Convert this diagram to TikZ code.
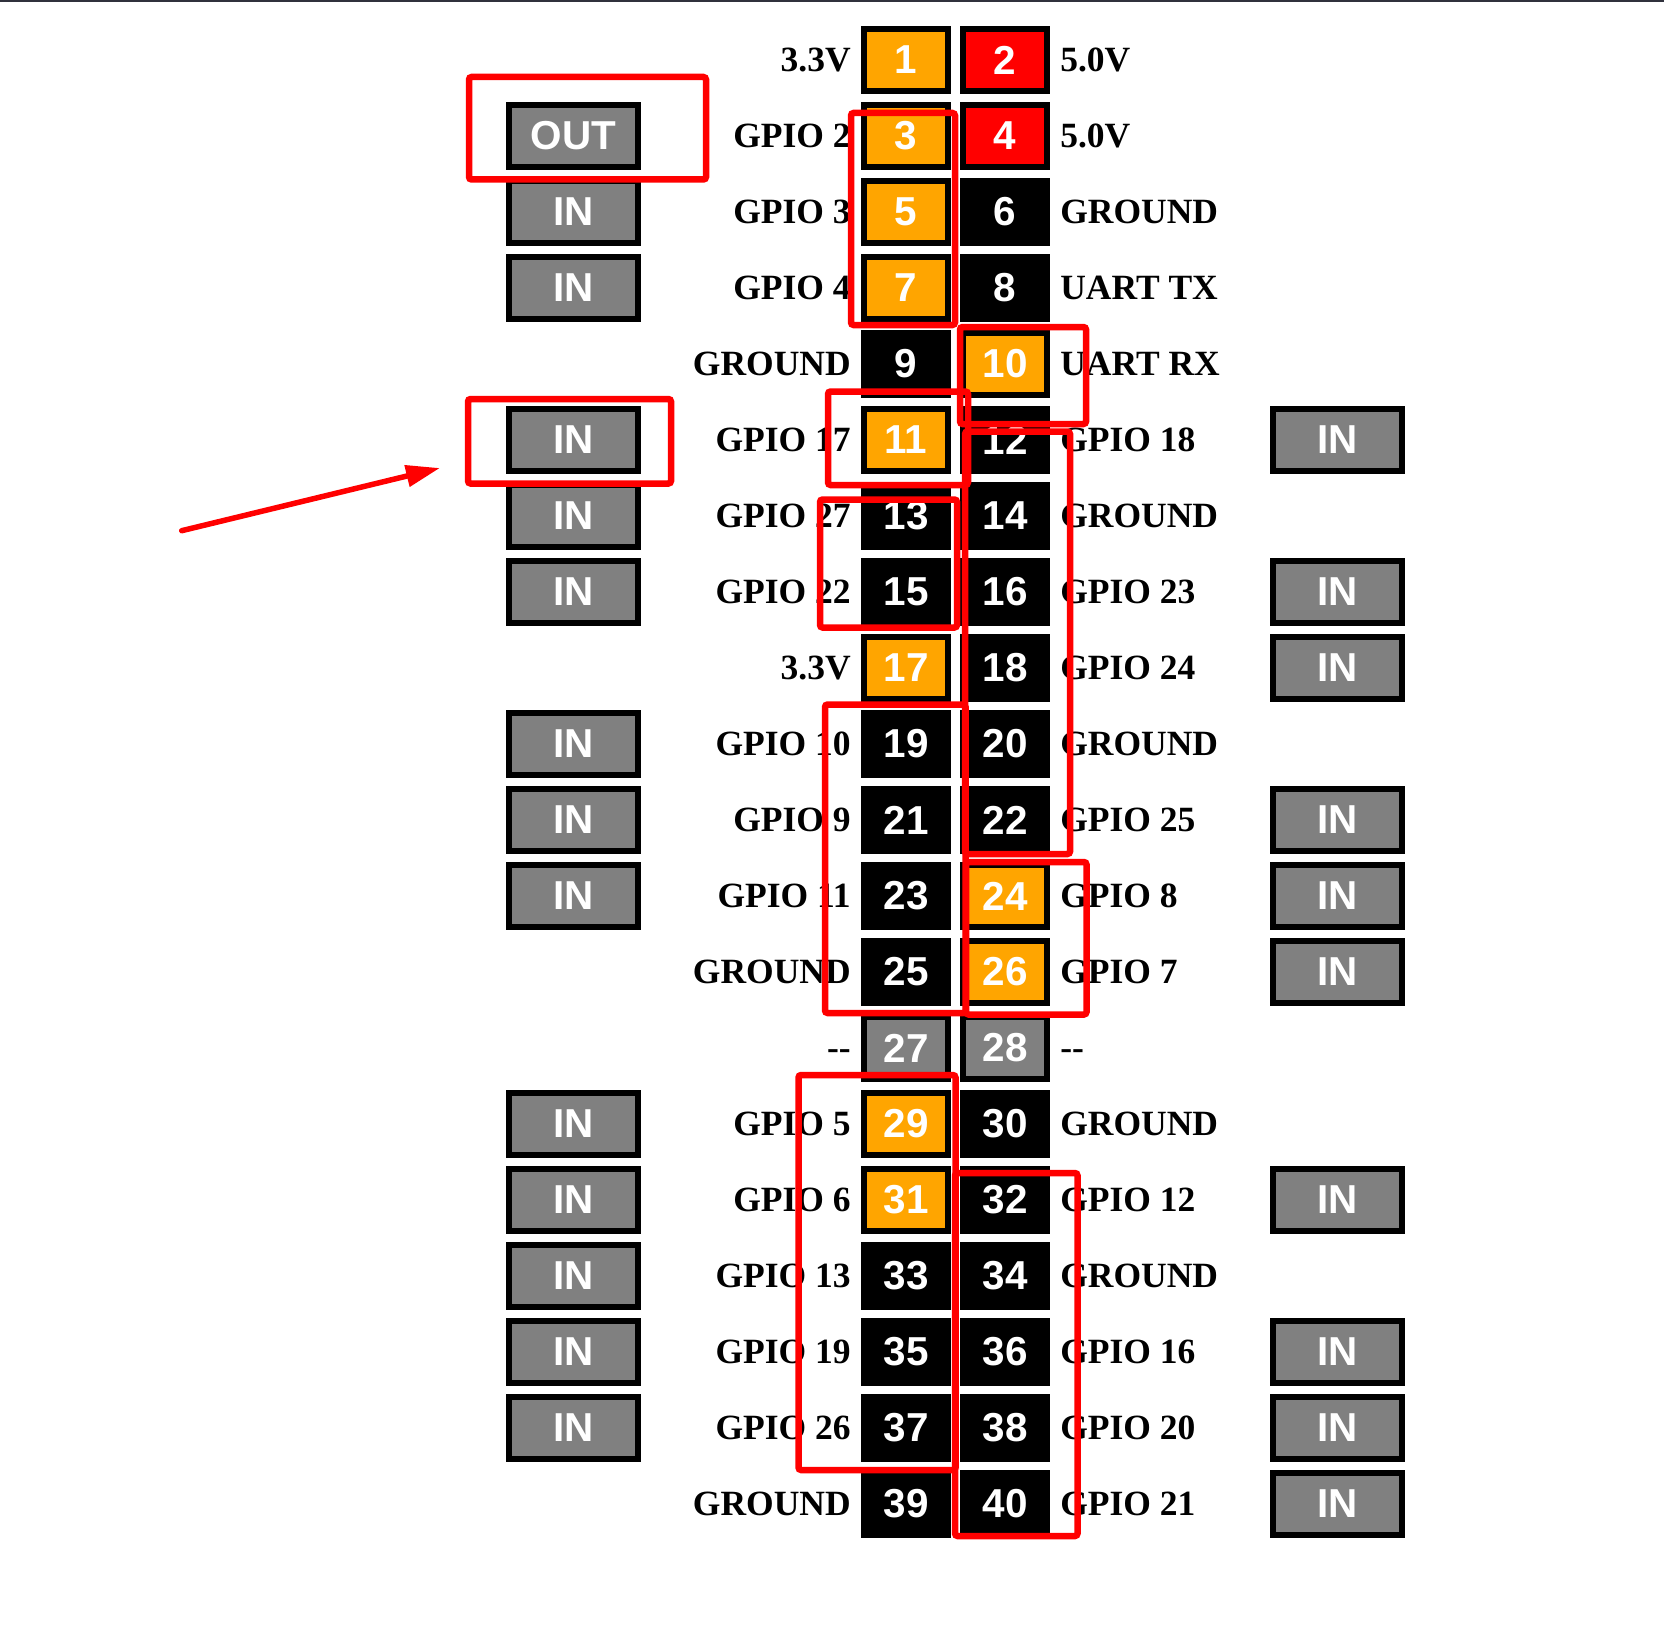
\documentclass[tikz,border=0pt]{standalone}
\usepackage{fontspec}
\setmainfont{Liberation Serif}
\setsansfont{Liberation Sans}
\usepackage{tikz}
\usetikzlibrary{arrows.meta,positioning}
\definecolor{pinorange}{HTML}{FFA500}
\definecolor{pinred}{HTML}{FF0000}
\definecolor{pingray}{HTML}{808080}
\definecolor{hlred}{HTML}{FF0000}
\definecolor{topbar}{HTML}{30313C}
\tikzset{
  pin/.style={draw=black,line width=0.12cm,minimum width=1.68cm,minimum height=1.24cm,inner sep=0pt,text=white,font=\sffamily\bfseries\fontsize{23}{26}\selectfont},
  iobox/.style={pin,fill=pingray,minimum width=2.58cm},
  lab/.style={inner sep=0pt,text height=0.468cm,text depth=0pt,font=\bfseries\fontsize{20.2}{24}\selectfont},
  hl/.style={draw=hlred,line width=0.13cm,rounded corners=1.5pt},
  ar/.style={-{Triangle[length=0.68cm,width=0.42cm]},line width=0.11cm,hlred,line cap=round}
}
\begin{document}
\begin{tikzpicture}
\useasboundingbox (0,0) rectangle (33.28,-32.94);
\fill[topbar] (0,0) rectangle (33.28,-0.04);
% header pins, two per row
\foreach \r/\ca/\la/\cb/\lb in {
  1/pinorange/3.3V/pinred/5.0V,
  2/pinorange/GPIO 2/pinred/5.0V,
  3/pinorange/GPIO 3/black/GROUND,
  4/pinorange/GPIO 4/black/UART TX,
  5/black/GROUND/pinorange/UART RX,
  6/pinorange/GPIO 17/black/GPIO 18,
  7/black/GPIO 27/black/GROUND,
  8/black/GPIO 22/black/GPIO 23,
  9/pinorange/3.3V/black/GPIO 24,
  10/black/GPIO 10/black/GROUND,
  11/black/GPIO 9/black/GPIO 25,
  12/black/GPIO 11/pinorange/GPIO 8,
  13/black/GROUND/pinorange/GPIO 7,
  14/pingray/-{}-/pingray/-{}-,
  15/pinorange/GPIO 5/black/GROUND,
  16/pinorange/GPIO 6/black/GPIO 12,
  17/black/GPIO 13/black/GROUND,
  18/black/GPIO 19/black/GPIO 16,
  19/black/GPIO 26/black/GPIO 20,
  20/black/GROUND/black/GPIO 21}{
  \pgfmathtruncatemacro\na{2*\r-1}
  \pgfmathtruncatemacro\nb{2*\r}
  \pgfmathsetmacro\y{-1.2-1.52*(\r-1)}
  \node[pin,fill=\ca] (p\na) at (18.12,\y) {\na};
  \node[pin,fill=\cb] (p\nb) at (20.1,\y) {\nb};
  \node[lab,left=0.2cm of p\na] (l\na) {\la};
  \node[lab,right=0.2cm of p\nb] (l\nb) {\lb};
}
% direction boxes
\node[iobox] (outL2) at (11.47,-2.72) {OUT};
\foreach \r in {3,4,6,7,8,10,11,12,15,16,17,18,19}
  \node[iobox] (inL\r) at (11.47,{-1.2-1.52*(\r-1)}) {IN};
\foreach \r in {6,8,9,11,12,13,16,18,19,20}
  \node[iobox] (inR\r) at (26.75,{-1.2-1.52*(\r-1)}) {IN};
% red marks
\draw[hl] (9.38,-1.54) rectangle (14.12,-3.59);
\draw[hl] (17.02,-2.26) rectangle (19.10,-6.50);
\draw[hl] (19.20,-6.54) rectangle (21.72,-8.48);
\draw[hl] (16.56,-7.83) rectangle (19.36,-9.70);
\draw[hl] (9.36,-7.98) rectangle (13.42,-9.67);
\draw[hl] (16.40,-9.99) rectangle (19.14,-12.55);
\draw[hl] (19.30,-8.63) rectangle (21.40,-17.08);
\draw[hl] (16.50,-14.09) rectangle (19.31,-20.26);
\draw[hl] (19.32,-17.24) rectangle (21.73,-20.29);
\draw[hl] (15.97,-21.50) rectangle (19.11,-29.40);
\draw[hl] (19.10,-23.46) rectangle (21.55,-30.72);
\coordinate (tail) at (3.634,-10.614);
\coordinate (tip) at (8.80,-9.36);
\draw[ar] (tail) -- (tip);
\end{tikzpicture}
\end{document}
